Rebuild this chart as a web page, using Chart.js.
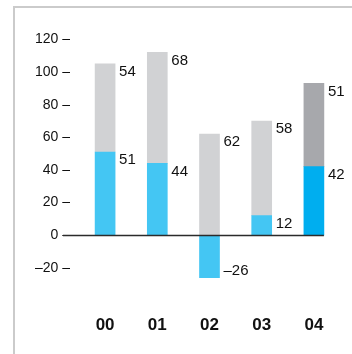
<!DOCTYPE html>
<html>
<head>
<meta charset="utf-8">
<script src="https://cdn.jsdelivr.net/npm/chart.js@4"></script>
<style>
  html, body { margin: 0; padding: 0; background: #fff; }
  #frame {
    position: absolute; left: 13px; top: 6px; width: 339px; height: 348px;
    border-top: 2px solid #cbcbcb; border-left: 2px solid #cbcbcb;
  }
  #wrap { position: absolute; left: 0; top: 0; width: 352px; height: 354px; }
</style>
</head>
<body>
<div id="frame"></div>
<div id="wrap"><canvas id="chart" width="352" height="354"></canvas></div>
<script>
const years = ["00", "01", "02", "03", "04"];
const baseValues = [51, 44, -26, 12, 42];
const topValues = [54, 68, 62, 58, 51];
const yTicks = [-20, 0, 20, 40, 60, 80, 100, 120];

const baseColors = ["#44c6f3", "#44c6f3", "#44c6f3", "#44c6f3", "#00aeef"];
const topColors = ["#d1d2d4", "#d1d2d4", "#d1d2d4", "#d1d2d4", "#a7a8ac"];

const fmt = (v) => (v < 0 ? "\u2013" + Math.abs(v) : String(v));
const FONT = "Liberation Sans, Arial, Helvetica, sans-serif";

// value labels to the right of each stacked segment
const valueLabels = {
  id: "valueLabels",
  afterDatasetsDraw(chart) {
    const { ctx } = chart;
    ctx.save();
    ctx.font = "15px " + FONT;
    ctx.fillStyle = "#111";
    ctx.textAlign = "left";
    ctx.textBaseline = "middle";
    chart.data.datasets.forEach((ds, i) => {
      chart.getDatasetMeta(i).data.forEach((bar, j) => {
        const v = ds.data[j];
        const edge = v < 0 ? bar.y - 7 : bar.y + 8;
        ctx.fillText(fmt(v), bar.x + bar.width / 2 + 4, edge);
      });
    });
    ctx.restore();
  },
};

// baseline at zero, from the tick dashes to the last bar
const zeroLine = {
  id: "zeroLine",
  afterDatasetsDraw(chart) {
    const { ctx, scales } = chart;
    const y0 = Math.round(scales.y.getPixelForValue(0)) + 0.5;
    const bars = chart.getDatasetMeta(0).data;
    const last = bars[bars.length - 1];
    ctx.save();
    ctx.strokeStyle = "#2b2b2b";
    ctx.lineWidth = 1.5;
    ctx.beginPath();
    ctx.moveTo(chart.chartArea.left - 16, y0);
    ctx.lineTo(last.x + last.width / 2, y0);
    ctx.stroke();
    ctx.restore();
  },
};

const data = {
  labels: years,
  datasets: [
    { data: baseValues, backgroundColor: baseColors, barThickness: 20 },
    { data: topValues, backgroundColor: topColors, barThickness: 20 },
  ],
};

const options = {
  responsive: false,
  animation: false,
  layout: { padding: { left: 0, right: 12, top: 23, bottom: 3 } },
  plugins: { legend: { display: false }, tooltip: { enabled: false } },
  scales: {
    x: {
      stacked: true,
      grid: { display: false, drawTicks: false },
      border: { display: false },
      ticks: {
        color: "#111",
        padding: 15,
        font: { family: FONT, size: 17, weight: "bold" },
      },
    },
    y: {
      stacked: true,
      min: -40,
      max: 130,
      afterBuildTicks: (axis) => {
        axis.ticks = yTicks.map((v) => ({ value: v }));
      },
      afterFit: (axis) => {
        axis.width = 79;
      },
      grid: { display: false, drawTicks: false },
      border: { display: false },
      ticks: {
        color: "#111",
        padding: 9,
        font: { family: FONT, size: 14 },
        callback: (v) => fmt(v) + " \u2013",
      },
    },
  },
};

new Chart("chart", { type: "bar", data, options, plugins: [valueLabels, zeroLine] });
</script>
</body>
</html>
